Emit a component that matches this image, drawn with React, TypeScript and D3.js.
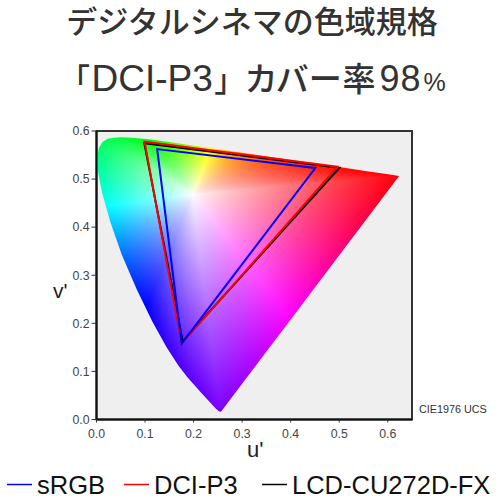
import React, { useMemo } from 'react';
import * as d3 from 'd3';

// Spectral locus (CIE 1976 u'v'), wavelengths in nm
const locusNm = [380, 400, 420, 430, 440, 450, 460, 465, 470, 475, 480, 485, 490, 495, 500, 505, 510, 515, 520, 525, 530, 535, 540, 550, 560, 570, 580, 590, 600, 610, 620, 630, 640, 650, 660, 680, 700];
const locusU = [0.2568, 0.2557, 0.2522, 0.2461, 0.2347, 0.2161, 0.1877, 0.1690, 0.1441, 0.1147, 0.0828, 0.0521, 0.0282, 0.0119, 0.0035, 0.0014, 0.0046, 0.0123, 0.0231, 0.0360, 0.0501, 0.0643, 0.0792, 0.1127, 0.1531, 0.2026, 0.2623, 0.3315, 0.4035, 0.4692, 0.5203, 0.5565, 0.5830, 0.6005, 0.6109, 0.6199, 0.6234];
const locusV = [0.0166, 0.0159, 0.0169, 0.0226, 0.0350, 0.0549, 0.0871, 0.1119, 0.1510, 0.2044, 0.2708, 0.3427, 0.4117, 0.4698, 0.5131, 0.5432, 0.5638, 0.5770, 0.5837, 0.5861, 0.5868, 0.5865, 0.5856, 0.5821, 0.5766, 0.5694, 0.5604, 0.5501, 0.5393, 0.5296, 0.5219, 0.5165, 0.5125, 0.5099, 0.5084, 0.5070, 0.5065];
const whitePoint = [0.1978, 0.4683];

// Gamut triangles (R, G, B primaries in u'v')
const seriesNames = ['sRGB', 'DCI-P3', 'LCD-CU272D-FX'];
const seriesColors = ['#0000ff', '#ff0000', '#000000'];
const sRGBU = [0.4507, 0.1250, 0.1754];
const sRGBV = [0.5229, 0.5625, 0.1579];
const dciU = [0.4964, 0.0990, 0.1754];
const dciV = [0.5255, 0.5777, 0.1579];
const lcdU = [0.5005, 0.0985, 0.1775];
const lcdV = [0.5235, 0.5745, 0.1625];

const xTicks = [0, 0.1, 0.2, 0.3, 0.4, 0.5, 0.6];
const yTicks = [0, 0.1, 0.2, 0.3, 0.4, 0.5, 0.6];

const titleLine1 = 'デジタルシネマの色域規格';
const titleParts = ['「', 'DCI-P3', '」', 'カバー率', '98', '%'];

const X0 = 96.5, X1 = 412, Y0 = 419.5, Y1 = 131;
const xScale = d3.scaleLinear().domain([0, 0.65]).range([X0, X1]);
const yScale = d3.scaleLinear().domain([0, 0.6]).range([Y0, Y1]);

function makeImage(): string {
  if (typeof document === 'undefined') return '';
  const w = Math.ceil(X1 - X0);
  const h = Math.ceil(Y0 - Y1);
  const canvas = document.createElement('canvas');
  canvas.width = w;
  canvas.height = h;
  const ctx = canvas.getContext('2d');
  if (!ctx) return '';
  const [wu, wv] = whitePoint;
  // boundary distance per angle bin
  const N = 1440;
  const bound = new Float64Array(N);
  const n = locusU.length;
  for (let k = 0; k < N; k++) {
    const a = (k / N) * 2 * Math.PI;
    const dx = Math.cos(a), dy = Math.sin(a);
    let best = Infinity;
    for (let i = 0; i < n; i++) {
      const j = (i + 1) % n;
      const ax = locusU[i] - wu, ay = locusV[i] - wv;
      const bx = locusU[j] - wu, by = locusV[j] - wv;
      const ex = bx - ax, ey = by - ay;
      const den = dx * ey - dy * ex;
      if (Math.abs(den) < 1e-12) continue;
      const t = (ax * ey - ay * ex) / den;
      const s = (ax * dy - ay * dx) / den;
      if (t > 0 && s >= 0 && s <= 1 && t < best) best = t;
    }
    bound[k] = best === Infinity ? 0.3 : best;
  }
  const img = ctx.createImageData(w, h);
  for (let py = 0; py < h; py++) {
    for (let px = 0; px < w; px++) {
      const u = xScale.invert(X0 + px + 0.5);
      const v = yScale.invert(Y1 + py + 0.5);
      const du = u - wu, dv = v - wv;
      let ang = Math.atan2(dv, du);
      if (ang < 0) ang += 2 * Math.PI;
      const k = Math.min(N - 1, Math.floor((ang / (2 * Math.PI)) * N));
      const d = Math.sqrt(du * du + dv * dv);
      const sat = Math.pow(Math.min(1, d / bound[k]), 0.85);
      const hue = ((ang * 180) / Math.PI - 8 + 360) % 360;
      const c = d3.rgb(d3.hsl(hue, 1, 1 - 0.5 * sat) as any);
      const idx = (py * w + px) * 4;
      img.data[idx] = c.r;
      img.data[idx + 1] = c.g;
      img.data[idx + 2] = c.b;
      img.data[idx + 3] = 255;
    }
  }
  ctx.putImageData(img, 0, 0);
  return canvas.toDataURL();
}

export default function App() {
  const href = useMemo(() => makeImage(), []);
  const locusPts: [number, number][] = locusU.map((u, i) => [xScale(u), yScale(locusV[i])]);
  const locusPath = d3.line()(locusPts) + 'Z';
  const tri = (us: number[], vs: number[]) =>
    d3.line()(us.map((u, i) => [xScale(u), yScale(vs[i])] as [number, number])) + 'Z';
  const gamuts = [
    { path: tri(lcdU, lcdV), color: seriesColors[2] },
    { path: tri(dciU, dciV), color: seriesColors[1] },
    { path: tri(sRGBU, sRGBV), color: seriesColors[0] },
  ];
  const font = '"Liberation Sans", Arial, sans-serif';
  const cjk = '"Noto Sans CJK JP", "Noto Sans", sans-serif';
  const legendX = [7, 124, 262];
  const palt = { fontFeatureSettings: '"palt"' } as React.CSSProperties;

  return (
    <svg width={500} height={500} style={{ position: 'absolute', left: 0, top: 0, background: '#fff' }}>
      <defs>
        <clipPath id="locusClip">
          <path d={locusPath} />
        </clipPath>
      </defs>
      <text x={252} y={33} textAnchor="middle" fontFamily={cjk} fontSize={31} fontWeight={500} fill="#333">{titleLine1}</text>
      <text x={74} y={91} fontFamily={cjk} fontSize={31} fontWeight={500} fill="#333" style={palt}>
        <tspan>{titleParts[0]}</tspan>
        <tspan fontFamily={font} fontSize={37} dx={2}>{titleParts[1]}</tspan>
        <tspan dx={2}>{titleParts[2]}</tspan>
        <tspan fontSize={33} dx={15} letterSpacing={1}>{titleParts[3]}</tspan>
        <tspan fontFamily={font} fontSize={36} dx={3} letterSpacing={1}>{titleParts[4]}</tspan>
        <tspan fontFamily={font} fontSize={25} dx={2}>{titleParts[5]}</tspan>
      </text>

      <rect x={X0} y={Y1} width={X1 - X0} height={Y0 - Y1} fill="#efefef" stroke="#333" strokeWidth={2} />
      {href && (
        <image href={href} x={X0} y={Y1} width={Math.ceil(X1 - X0)} height={Math.ceil(Y0 - Y1)} clipPath="url(#locusClip)" preserveAspectRatio="none" />
      )}
      {gamuts.map((g, i) => (
        <path key={i} d={g.path} fill="none" stroke={g.color} strokeWidth={2} strokeLinejoin="miter" />
      ))}
      <line x1={X0} y1={Y1} x2={X0} y2={Y0} stroke="#111" strokeWidth={2} />
      <line x1={X0} y1={Y0} x2={X1} y2={Y0} stroke="#111" strokeWidth={2} />

      {yTicks.map((t) => (
        <g key={'y' + t}>
          <line x1={X0 - 5} x2={X0} y1={yScale(t)} y2={yScale(t)} stroke="#333" strokeWidth={1} />
          <text x={X0 - 7} y={yScale(t) + 4.3} textAnchor="end" fontFamily={font} fontSize={12.3} fill="#444">{t.toFixed(1)}</text>
        </g>
      ))}
      {xTicks.map((t) => (
        <g key={'x' + t}>
          <line x1={xScale(t)} x2={xScale(t)} y1={Y0} y2={Y0 + 3} stroke="#333" strokeWidth={1} />
          <text x={xScale(t)} y={437.5} textAnchor="middle" fontFamily={font} fontSize={12.3} fill="#444">{t.toFixed(1)}</text>
        </g>
      ))}
      <text x={53} y={298} fontFamily={font} fontSize={21} fill="#222">v'</text>
      <text x={247} y={457} fontFamily={font} fontSize={22} fill="#222">u'</text>
      <text x={419} y={412.5} fontFamily={font} fontSize={10.8} fill="#333">CIE1976 UCS</text>

      {seriesNames.map((name, i) => (
        <g key={name}>
          <line x1={legendX[i]} x2={legendX[i] + 25} y1={484.5} y2={484.5} stroke={seriesColors[i]} strokeWidth={1.5} />
          <text x={legendX[i] + 30} y={493.5} fontFamily={font} fontSize={25.5} fill="#111">{name}</text>
        </g>
      ))}
    </svg>
  );
}
